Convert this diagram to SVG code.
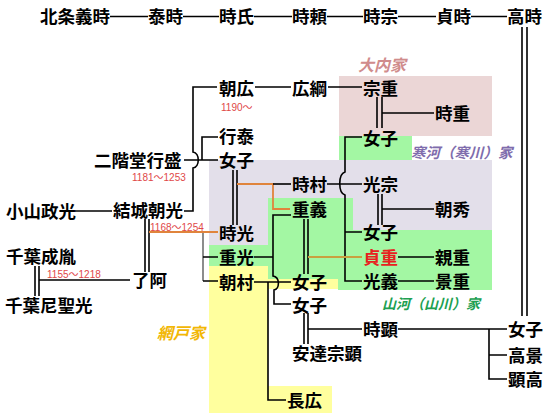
<svg xmlns="http://www.w3.org/2000/svg" width="550" height="420" viewBox="0 0 550 420">
<style>
.n{font-family:"Noto Sans CJK JP","Noto Sans CJK SC",sans-serif;font-size:17.5px;font-weight:700;fill:#000}
.d{font-family:"Liberation Sans","Noto Sans CJK JP",sans-serif;font-size:10px;fill:#E04848}
.f{font-family:"Noto Sans CJK JP",sans-serif;font-weight:700;font-style:italic}
.l{fill:none;stroke:#000;stroke-width:1.6}
.o{fill:none;stroke:#E0843C;stroke-width:1.8}
.g{fill:none;stroke:#C9A040;stroke-width:1.8}
.gr{fill:none;stroke:#808080;stroke-width:1.8}
</style>
<rect width="550" height="420" fill="#fff"/>
<g id="backgrounds">
<rect x="209" y="160" width="283" height="85" fill="#E3DFEA"/>
<rect x="339" y="76" width="153" height="60" fill="#EBD6D6"/>
<rect x="339" y="136" width="73" height="24" fill="#A3F7A3"/>
<rect x="268" y="198" width="85" height="81" fill="#A3F7A3"/>
<rect x="338" y="230" width="154" height="60" fill="#A3F7A3"/>
<rect x="209" y="245" width="59" height="21" fill="#A3F7A3"/>
<rect x="209" y="266" width="59" height="147" fill="#FFFF9E"/>
<rect x="268" y="279" width="70" height="10" fill="#FFFF9E"/>
<rect x="268" y="386" width="64" height="27" fill="#FFFF9E"/>
</g>
<g id="family-labels">
<text class="f" x="358" y="71" font-size="16" fill="#D08C8C">大内家</text>
<text class="f" x="411" y="158" font-size="14.5" fill="#7F6DAD">寒河（寒川）家</text>
<text class="f" x="382" y="308.5" font-size="14" fill="#20A050">山河（山川）家</text>
<text class="f" x="157" y="339" font-size="16" fill="#F2B705">網戸家</text>
</g>
<g id="connectors">
<path class="l" d="M110 16.5H148M183 16.5H219M254 16.5H292M327 16.5H363M398 16.5H436M471 16.5H507"/>
<path class="l" d="M522 27V316M527 27V316"/>
<path class="l" d="M184 211H193V168C200 167 200 153 193 152V87H217"/>
<path class="l" d="M184 160H218M202 160V137H218"/>
<path class="l" d="M255 87H291M328 87H362"/>
<path class="l" d="M377 97V128M382 97V128M382 113H434"/>
<path class="l" d="M362 137H345V172C338 174 338 193 345 195V281H362M345 232H362"/>
<path class="l" d="M327 184H362"/>
<path class="l" d="M378 194V225M382 194V225M382 209H434"/>
<path class="l" d="M398 257H434M398 281H434"/>
<path class="l" d="M233 170V225M237 170V225"/>
<path class="o" d="M237 184H273V209H290"/>
<path class="l" d="M273 184H291"/>
<path class="l" d="M75 211H112"/>
<path class="l" d="M145 219V272M149 219V272"/>
<path class="o" d="M149 232H218"/>
<path class="gr" d="M203 233V281"/>
<path class="l" d="M203 257H218M203 281H218"/>
<path class="l" d="M35 266V296M39 266V296M39 280H130"/>
<path class="l" d="M254 257H273M291 215H273V276C280 277 280 289 274 290V304H291"/>
<path class="l" d="M254 282H291M268 282V400H286"/>
<path class="l" d="M304 219V274M308 219V274"/>
<path class="g" d="M308 257H362"/>
<path class="l" d="M304 313V344M308 313V344M308 329H362"/>
<path class="l" d="M398 329H507M489 329V379H507M489 355H507"/>
</g>
<g id="n-hojo-yoshitoki"><text class="n" x="40" y="23">北条義時</text></g>
<g id="n-yasutoki"><text class="n" x="148" y="23">泰時</text></g>
<g id="n-tokiuji"><text class="n" x="219" y="23">時氏</text></g>
<g id="n-tokiyori"><text class="n" x="292" y="23">時頼</text></g>
<g id="n-tokimune"><text class="n" x="363" y="23">時宗</text></g>
<g id="n-sadatoki"><text class="n" x="436" y="23">貞時</text></g>
<g id="n-takatoki"><text class="n" x="507" y="23">高時</text></g>
<g id="n-tomohiro"><text class="n" x="219" y="94.5">朝広</text><text class="d" x="221" y="110.5">1190〜</text></g>
<g id="n-hirotsuna"><text class="n" x="292" y="94.5">広綱</text></g>
<g id="n-muneshige"><text class="n" x="363" y="94.5">宗重</text></g>
<g id="n-tokishige"><text class="n" x="435" y="120">時重</text></g>
<g id="n-joshi-a"><text class="n" x="363" y="144.5">女子</text></g>
<g id="n-yukiyasu"><text class="n" x="219" y="143">行泰</text></g>
<g id="n-joshi-b"><text class="n" x="219" y="166.5">女子</text></g>
<g id="n-nikaido"><text class="n" x="94" y="167">二階堂行盛</text><text class="d" x="132" y="181">1181〜1253</text></g>
<g id="n-tokimura"><text class="n" x="292" y="191">時村</text></g>
<g id="n-mitsumune"><text class="n" x="363" y="190.5">光宗</text></g>
<g id="n-oyama"><text class="n" x="6" y="217.5">小山政光</text></g>
<g id="n-yuki-tomomitsu"><text class="n" x="113" y="217">結城朝光</text><text class="d" x="150" y="230.5">1168〜1254</text></g>
<g id="n-shigeyoshi"><text class="n" x="292" y="215.5">重義</text></g>
<g id="n-tomohide"><text class="n" x="435" y="215.5">朝秀</text></g>
<g id="n-tokimitsu"><text class="n" x="219" y="239.5">時光</text></g>
<g id="n-joshi-c"><text class="n" x="363" y="238.5">女子</text></g>
<g id="n-chiba-narutane"><text class="n" x="6" y="263">千葉成胤</text><text class="d" x="47" y="277.5">1155〜1218</text></g>
<g id="n-shigemitsu"><text class="n" x="219" y="263.5">重光</text></g>
<g id="n-sadashige"><text class="n" x="363" y="263.5" style="fill:#E82020">貞重</text></g>
<g id="n-chikashige"><text class="n" x="435" y="263.5">親重</text></g>
<g id="n-ryoa"><text class="n" x="132" y="286.5">了阿</text></g>
<g id="n-tomomura"><text class="n" x="219" y="288.5">朝村</text></g>
<g id="n-joshi-d"><text class="n" x="292" y="288.5">女子</text></g>
<g id="n-mitsuyoshi"><text class="n" x="363" y="287.5">光義</text></g>
<g id="n-kageshige"><text class="n" x="435" y="287.5">景重</text></g>
<g id="n-chiba-ama"><text class="n" x="5" y="311.5">千葉尼聖光</text></g>
<g id="n-joshi-e"><text class="n" x="292" y="311.5">女子</text></g>
<g id="n-tokiaki"><text class="n" x="363" y="335.5">時顕</text></g>
<g id="n-joshi-f"><text class="n" x="508" y="335.5">女子</text></g>
<g id="n-adachi-muneaki"><text class="n" x="292" y="359.5">安達宗顕</text></g>
<g id="n-takakage"><text class="n" x="508" y="361.5">高景</text></g>
<g id="n-akitaka"><text class="n" x="508" y="385.5">顕高</text></g>
<g id="n-nagahiro"><text class="n" x="287" y="406.5">長広</text></g>
</svg>
